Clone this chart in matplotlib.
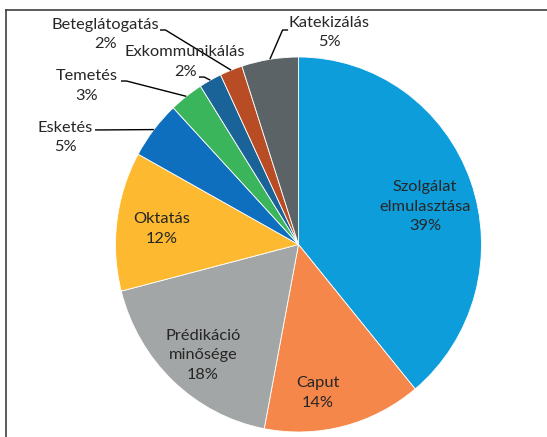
import numpy as np
import matplotlib.pyplot as plt
from matplotlib.lines import Line2D

# adatok
labels = ["Szolgálat\nelmulasztása", "Caput", "Prédikáció\nminősége", "Oktatás",
          "Esketés", "Temetés", "Exkommunikálás", "Beteglátogatás", "Katekizálás"]
values = [39, 14, 18, 12, 5, 3, 2, 2, 5]
colors = ["#0D9DDB", "#F5874A", "#A3A6A6", "#FDB92F", "#0F6FBF",
          "#3AB55B", "#1A6399", "#B84D25", "#5B6366"]

plt.rcParams['font.family'] = ['Lato', 'DejaVu Sans']

W, H = 547, 437
fig = plt.figure(figsize=(W / 100, H / 100), dpi=100)
cx, cy, rx, ry = 298.5, 244.5, 183, 187.5
ax = fig.add_axes([(cx - rx) / W, (H - cy - ry) / H, 2 * rx / W, 2 * ry / H])

wedges, _ = ax.pie(values, colors=colors, startangle=90, counterclock=False,
                   radius=1, wedgeprops=dict(edgecolor='white', linewidth=0.6))
ax.set_xlim(-1, 1)
ax.set_ylim(-1, 1)
ax.set_aspect('auto')
ax.axis('off')

total = sum(values)
fs = 11.8
ls = 1.5
# belső címkék: (távolság, szögeltolás fokban)
inside = {0: (0.72, -3.5), 1: (0.80, -6.8), 2: (0.787, 1.7), 3: (0.75, 0.8)}
# külső címkék: szöveg közepe, vonal kezdőpontja, könyökpont
outside = {
    4: ((-1.276, 0.571), (-1.112, 0.611), (-1.08, 0.611)),
    5: ((-1.156, 0.845), (-0.970, 0.872), (-0.94, 0.872)),
    6: ((-0.62, 0.973), (-0.544, 0.893), (-0.515, 0.893)),
    7: ((-1.057, 1.12), (-0.757, 1.144), (-0.727, 1.144)),
    8: ((0.167, 1.131), (-0.057, 1.144), (-0.087, 1.144)),
}

for i, w in enumerate(wedges):
    mid = (w.theta1 + w.theta2) / 2
    txt = f"{labels[i]}\n{round(values[i] / total * 100)}%"
    if i in inside:
        d, off = inside[i]
        a = np.deg2rad(mid + off)
        ax.text(d * np.cos(a), d * np.sin(a), txt, ha='center', va='center',
                fontsize=fs, color='#262626', linespacing=ls)
    else:
        (tx, ty), p0, p1 = outside[i]
        ax.text(tx, ty, txt, ha='center', va='center', fontsize=fs,
                color='#262626', linespacing=ls)
        a = np.deg2rad(mid)
        ax.plot([p0[0], p1[0], np.cos(a)], [p0[1], p1[1], np.sin(a)],
                color='black', lw=1, clip_on=False, solid_capstyle='butt')

# keret
fig.add_artist(Line2D([6 / W, 1], [1 - 10 / H, 1 - 10 / H], color='#404040', lw=1.2))
fig.add_artist(Line2D([6 / W, 6 / W], [0, 1 - 10 / H], color='#404040', lw=1.2))

fig.savefig("out.png", dpi=100)
